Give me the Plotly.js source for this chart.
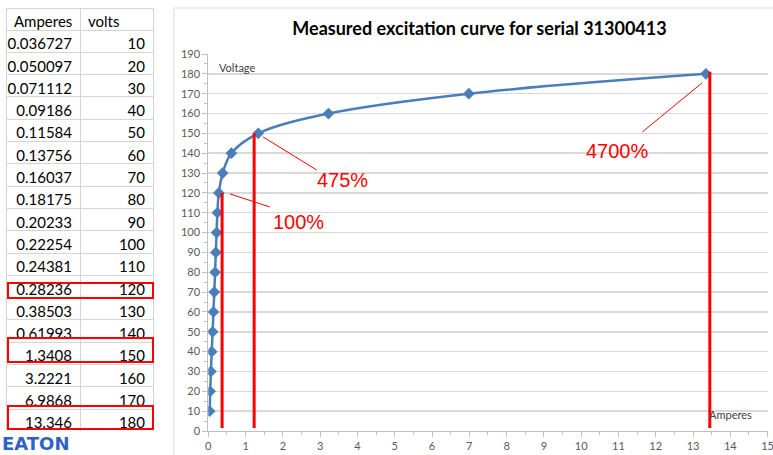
<!DOCTYPE html>
<html>
<head>
<meta charset="utf-8">
<script src="https://cdn.plot.ly/plotly-3.0.1.min.js"></script>
<style>html,body{margin:0;padding:0;background:#fff;}#chart{width:773px;height:455px;}</style>
</head>
<body>
<div id="chart"></div>
<script>
// ---- data ----
const amperes = [0.036727, 0.050097, 0.071112, 0.09186, 0.11584, 0.13756, 0.16037, 0.18175, 0.20233, 0.22254, 0.24381, 0.28236, 0.38503, 0.61993, 1.3408, 3.2221, 6.9868, 13.346];
const volts = [10, 20, 30, 40, 50, 60, 70, 80, 90, 100, 110, 120, 130, 140, 150, 160, 170, 180];
const tableHeader = ["Amperes", "volts"];
const highlightRows = [11, 14, 17];
// hand-drawn red markers on the chart
const markX = [0.37, 1.23, 13.45];
const markTop = [120, 150, 181];
const labelText = ["100%", "475%", "4700%"];
const labelX = [2.43, 3.61, 10.96];
const labelY = [105.3, 126.5, 141.1];
const leaderFrom = [[0.58, 119.5], [1.47, 148.2], [13.24, 175.4]];
const leaderTo = [[1.65, 112.9], [2.91, 131.5], [11.64, 150.7]];

const W = 773, H = 455;
const px = v => v / W;
const py = v => (H - v) / H;

const traces = [
  {
    type: 'table',
    domain: {x: [px(6), px(153)], y: [py(432), py(8)]},
    columnwidth: [74, 73],
    header: {
      values: tableHeader,
      align: ['left', 'left'],
      height: 22,
      fill: {color: '#ffffff'},
      line: {color: '#D4D4D4', width: 1},
      font: {family: 'Lato, sans-serif', size: 15, color: '#000'}
    },
    cells: {
      values: [amperes.map(String), volts.map(String)],
      align: ['right', 'right'],
      height: 22.3,
      fill: {color: '#ffffff'},
      line: {color: '#D4D4D4', width: 1},
      font: {family: 'Lato, sans-serif', size: 15, color: '#000'}
    }
  },
  {
    type: 'scatter',
    x: amperes,
    y: volts,
    mode: 'lines+markers',
    line: {color: '#4A7EBB', width: 2.5, shape: 'spline', smoothing: 1},
    marker: {symbol: 'diamond', size: 9, color: '#4A7EBB'},
    hoverinfo: 'x+y',
    showlegend: false
  }
];

const shapes = [
  // chart frame
  {type: 'rect', xref: 'paper', yref: 'paper', x0: px(174), x1: px(790), y0: py(470), y1: py(8),
   line: {color: '#D9D9D9', width: 1}, fillcolor: 'rgba(0,0,0,0)', layer: 'below'}
];
// red boxes around highlighted table rows
const boxPx = [[283, 298], [338, 362], [406, 429]];
highlightRows.forEach((r, i) => {
  shapes.push({type: 'rect', xref: 'paper', yref: 'paper', x0: px(8), x1: px(153),
    y0: py(boxPx[i][1]), y1: py(boxPx[i][0]), line: {color: '#FF0000', width: 2}, fillcolor: 'rgba(0,0,0,0)'});
});
markX.forEach((x, i) => {
  shapes.push({type: 'line', xref: 'x', yref: 'y', x0: x, x1: x, y0: 1.5, y1: markTop[i],
    line: {color: '#FF0000', width: 3}});
  shapes.push({type: 'line', xref: 'x', yref: 'y', x0: leaderFrom[i][0], y0: leaderFrom[i][1],
    x1: leaderTo[i][0], y1: leaderTo[i][1], line: {color: '#FF0000', width: 1}});
});

const annotations = labelText.map((t, i) => ({
  text: t, x: labelX[i], y: labelY[i], xref: 'x', yref: 'y', showarrow: false,
  xanchor: 'center', yanchor: 'middle',
  font: {family: 'Liberation Sans, Arial, sans-serif', size: 20, color: '#FF0000'}
}));
annotations.push(
  {text: 'Voltage', xref: 'paper', yref: 'paper', x: px(217), y: py(67), xanchor: 'left', yanchor: 'middle',
   showarrow: false, font: {family: 'Lato, sans-serif', size: 11, color: '#404040'}},
  {text: 'Amperes', xref: 'paper', yref: 'paper', x: px(707), y: py(414), xanchor: 'left', yanchor: 'middle',
   showarrow: false, font: {family: 'Lato, sans-serif', size: 11, color: '#404040'}},
  {text: '<b>EATON</b>', xref: 'paper', yref: 'paper', x: px(0), y: py(443), xanchor: 'left', yanchor: 'middle',
   showarrow: false, font: {family: 'DejaVu Sans, sans-serif', size: 18, color: '#2F62C2'}}
);

const axisFont = {family: 'Lato, sans-serif', size: 11, color: '#595959'};
const layout = {
  width: W, height: H,
  margin: {l: 0, r: 0, t: 0, b: 0},
  paper_bgcolor: '#fff', plot_bgcolor: '#fff',
  showlegend: false,
  title: {
    text: 'Measured excitation curve for serial 31300413',
    x: px(479.5), y: py(29), xanchor: 'center', yanchor: 'middle',
    font: {family: 'Lato, sans-serif', size: 18, weight: 700, color: '#000'}
  },
  xaxis: {
    domain: [px(208.3), px(767.6)], range: [0, 15], dtick: 1, tick0: 0,
    showgrid: false, zeroline: false, showline: true, linecolor: '#BFBFBF', linewidth: 1,
    ticks: 'outside', ticklen: 5, tickcolor: '#BFBFBF', ticklabeloverflow: 'allow',
    minor: {dtick: 0.5, ticks: 'outside', ticklen: 3, tickcolor: '#BFBFBF'},
    tickfont: axisFont, fixedrange: true
  },
  yaxis: {
    domain: [py(431), py(54)], range: [0, 190], dtick: 10, tick0: 0,
    showgrid: true, gridcolor: '#D9D9D9', gridwidth: 1.5, zeroline: false,
    showline: true, linecolor: '#BFBFBF', linewidth: 1,
    ticks: 'outside', ticklen: 5, tickcolor: '#BFBFBF',
    minor: {dtick: 5, ticks: 'outside', ticklen: 3, tickcolor: '#BFBFBF', showgrid: false},
    tickfont: axisFont, fixedrange: true
  },
  shapes: shapes,
  annotations: annotations
};

Plotly.newPlot('chart', traces, layout, {displayModeBar: false, staticPlot: true});
</script>
</body>
</html>
